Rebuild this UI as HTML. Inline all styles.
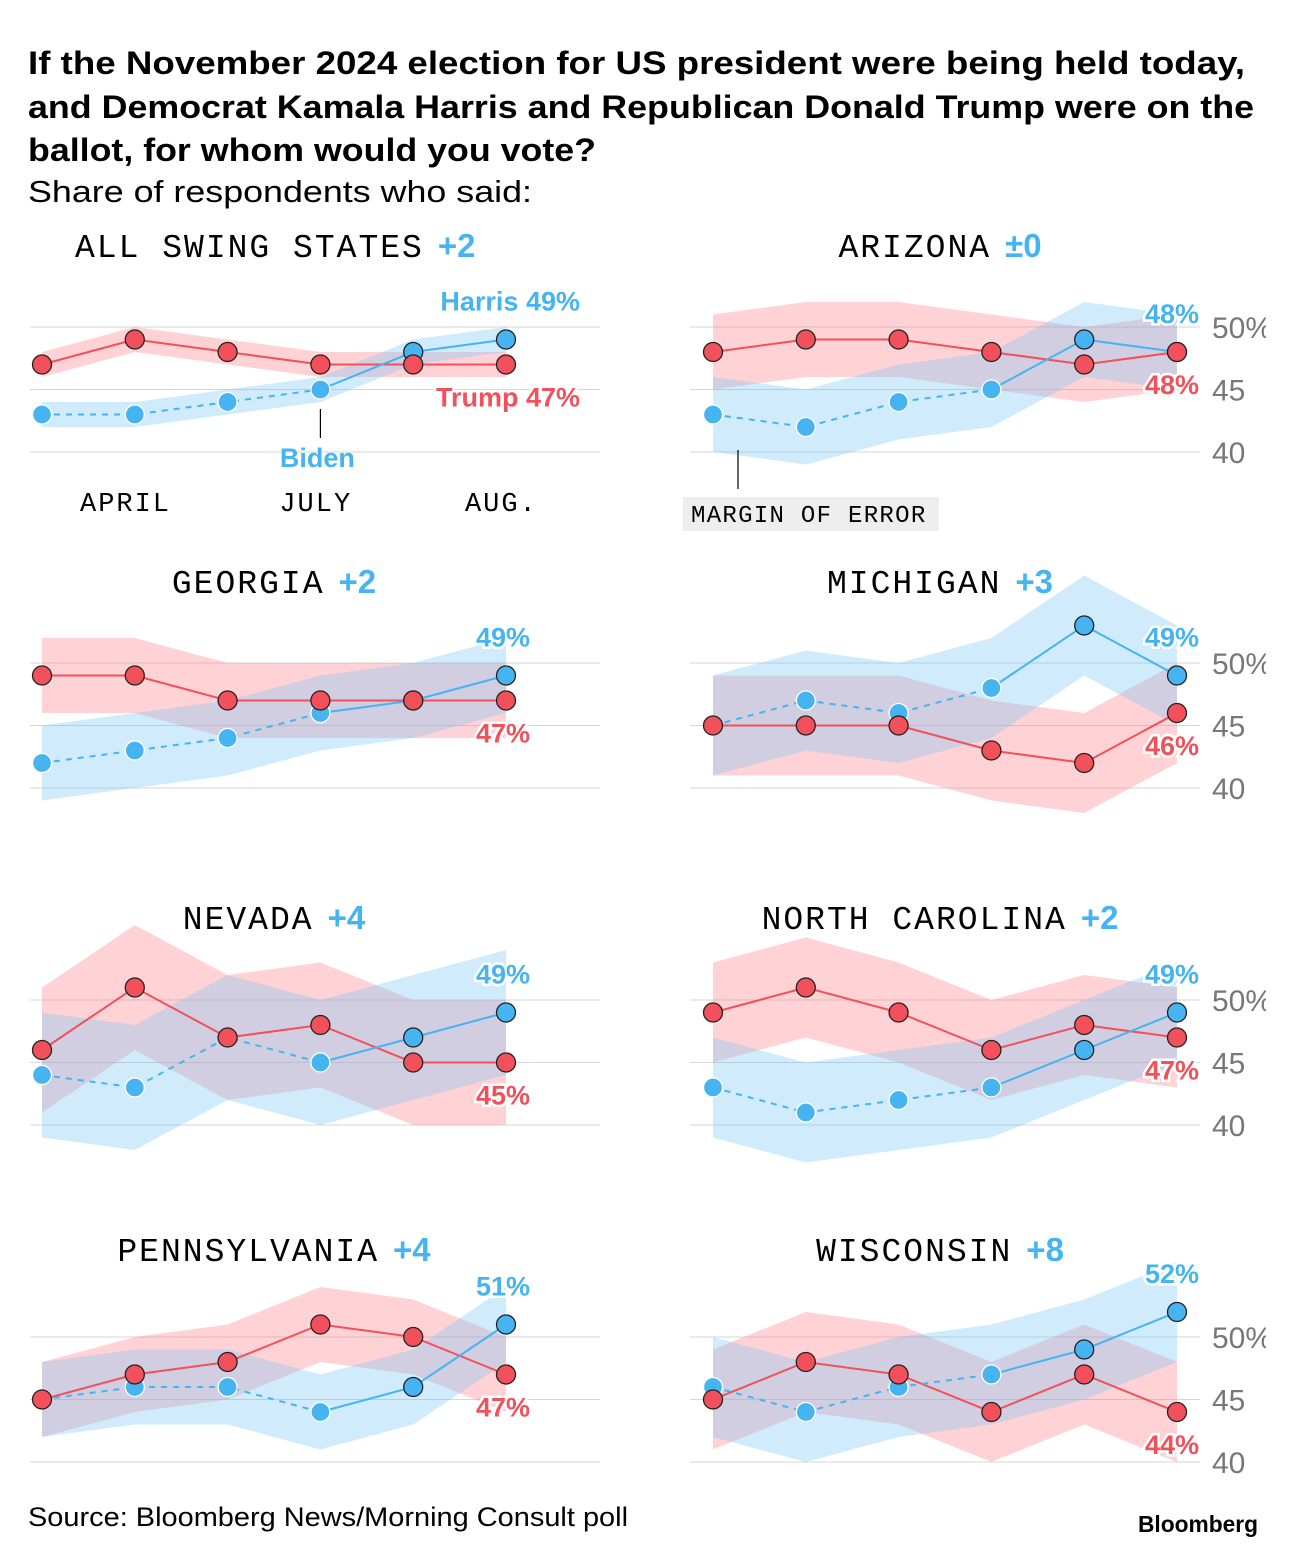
<!DOCTYPE html>
<html><head><meta charset="utf-8"><style>
body{margin:0;background:#fff;width:1296px;height:1558px;overflow:hidden}
.t{font-family:"Liberation Sans",sans-serif}
</style></head><body>
<svg id="c" width="1296" height="1558" xmlns="http://www.w3.org/2000/svg">
<defs><clipPath id="cp"><rect x="0" y="0" width="1266" height="1558"/></clipPath></defs>
<text x="28" y="74" class="t" font-size="32" font-weight="bold" fill="#000" textLength="1217" lengthAdjust="spacingAndGlyphs">If the November 2024 election for US president were being held today,</text>
<text x="28" y="118" class="t" font-size="32" font-weight="bold" fill="#000" textLength="1226" lengthAdjust="spacingAndGlyphs">and Democrat Kamala Harris and Republican Donald Trump were on the</text>
<text x="28" y="161" class="t" font-size="32" font-weight="bold" fill="#000" textLength="568" lengthAdjust="spacingAndGlyphs">ballot, for whom would you vote?</text>
<text x="28" y="202" class="t" font-size="31" fill="#000" textLength="504" lengthAdjust="spacingAndGlyphs">Share of respondents who said:</text>
<g id="panels" clip-path="url(#cp)"></g>
<text x="28" y="1526" class="t" font-size="27" fill="#000" textLength="600" lengthAdjust="spacingAndGlyphs">Source: Bloomberg News/Morning Consult poll</text>
<text x="1258" y="1532" class="t" font-size="23" font-weight="bold" fill="#000" text-anchor="end" textLength="120" lengthAdjust="spacingAndGlyphs">Bloomberg</text>
</svg>
<script>
const states=["ALL SWING STATES","ARIZONA","GEORGIA","MICHIGAN","NEVADA","NORTH CAROLINA","PENNSYLVANIA","WISCONSIN"];
const leads=["+2","±0","+2","+3","+4","+2","+4","+8"];
const trump=[[47,49,48,47,47,47],[48,49,49,48,47,48],[49,49,47,47,47,47],[45,45,45,43,42,46],[46,51,47,48,45,45],[49,51,49,46,48,47],[45,47,48,51,50,47],[45,48,47,44,47,44]];
const harris=[[43,43,44,45,48,49],[43,42,44,45,49,48],[42,43,44,46,47,49],[45,47,46,48,53,49],[44,43,47,45,47,49],[43,41,42,43,46,49],[45,46,46,44,46,51],[46,44,46,47,49,52]];
const moe=[1,3,3,4,5,4,3,4];
const yTicks=[50,45,40];
const monthLabels=["APRIL","JULY","AUG."];
const monthIdx=[0.9,2.95,4.95];
const NS="http://www.w3.org/2000/svg";
const g=document.getElementById('panels');
function el(t,a,p){const e=document.createElementNS(NS,t);for(const k in a)e.setAttribute(k,a[k]);(p||g).appendChild(e);return e;}
const base50=[327,663,1000,1337];
const RED="#f2505a",BLUE="#45b4f0";
states.forEach((s,i)=>{
  const col=i%2,row=Math.floor(i/2);
  const x0=col?713:42,dx=92.8;
  const xs=k=>x0+k*dx;
  const y50=base50[row];
  const ys=v=>y50+(50-v)*12.5;
  const pg=el('g',{});
  
  
  yTicks.forEach(t=>{
    const l=el('line',{x1:col?690:30,x2:col?1200:600,y1:ys(t),y2:ys(t),stroke:"#d6d6d6","stroke-width":1},pg);
    
    
    if(col){const tx=el('text',{x:1212,y:ys(t)+11,"font-size":30,fill:"#777",class:"t"},pg);tx.textContent=t+(t===50?"%":"");
      
      }
  });
  const tt=el('text',{x:col?940:(i===0?75:274),y:[257,593,929,1261][row],"font-size":33,"text-anchor":i===0?"start":"middle",class:"t"},pg);
  
  
  const a=el('tspan',{"font-family":"Liberation Mono,monospace","letter-spacing":"2"},tt);a.textContent=s;
  const b=el('tspan',{dx:"14","font-weight":"bold",fill:BLUE,"font-family":"Liberation Sans,sans-serif"},tt);b.textContent=leads[i];
  function band(arr,fill,name){
    const m=moe[i];
    let d=arr.map((v,k)=>(k?'L':'M')+xs(k)+','+ys(v+m)).join('')+arr.slice().reverse().map((v,k)=>'L'+xs(5-k)+','+ys(v-m)).join('')+'Z';
    const p=el('path',{d:d,fill:fill},pg);
    
    
  }
  band(trump[i],"rgba(255,120,132,0.33)","trump-margin-band");
  band(harris[i],"rgba(110,195,245,0.32)","harris-margin-band");
  const rl=el('path',{d:trump[i].map((v,k)=>(k?'L':'M')+xs(k)+','+ys(v)).join(''),stroke:RED,"stroke-width":2,fill:"none"},pg);
  
  
  const bd=el('path',{d:harris[i].slice(0,4).map((v,k)=>(k?'L':'M')+xs(k)+','+ys(v)).join(''),stroke:BLUE,"stroke-width":2,"stroke-dasharray":"6,6",fill:"none"},pg);
  
  
  const bs=el('path',{d:harris[i].slice(3).map((v,k)=>(k?'L':'M')+xs(k+3)+','+ys(v)).join(''),stroke:BLUE,"stroke-width":2,fill:"none"},pg);
  
  
  harris[i].forEach((v,k)=>{const c=el('circle',{cx:xs(k),cy:ys(v),r:9.5,fill:BLUE,stroke:k<4?"#fff":"#222","stroke-width":1.3},pg);
    
    });
  trump[i].forEach((v,k)=>{const c=el('circle',{cx:xs(k),cy:ys(v),r:9.5,fill:RED,stroke:"#222","stroke-width":1.3},pg);
    
    });
  const hv=harris[i][5],tv=trump[i][5];
  const lx=i===0?580:(col?1199:530);
  const hy=Math.min(ys(hv),ys(tv))-29, ty=Math.max(ys(hv),ys(tv))+42;
  const hl=el('text',{x:lx,y:hy,"font-size":27,"font-weight":"bold",fill:BLUE,"text-anchor":"end",class:"t",stroke:"#fff","stroke-width":5,"paint-order":"stroke"},pg);
  hl.textContent=(i===0?"Harris ":"")+hv+"%";
  
  
  const tl=el('text',{x:lx,y:ty,"font-size":27,"font-weight":"bold",fill:RED,"text-anchor":"end",class:"t",stroke:"#fff","stroke-width":5,"paint-order":"stroke"},pg);
  tl.textContent=(i===0?"Trump ":"")+tv+"%";
  
  
  if(i===0){
    el('line',{x1:xs(3),x2:xs(3),y1:409,y2:438,stroke:"#000","stroke-width":1.2},pg);
    const bl=el('text',{x:xs(3)-3,y:467,"font-size":27,"font-weight":"bold",fill:BLUE,"text-anchor":"middle",class:"t"},pg);bl.textContent="Biden";
    
    
    monthLabels.forEach((m,k)=>{const t=el('text',{x:xs(monthIdx[k]),y:511,"font-size":27,"text-anchor":"middle","font-family":"Liberation Mono,monospace","letter-spacing":"2"},pg);t.textContent=m;
      
      });
  }
  if(i===1){
    el('line',{x1:738,x2:738,y1:450,y2:489,stroke:"#000","stroke-width":1.2},pg);
    const r=el('rect',{x:683,y:497,width:256,height:34,fill:"#eeeeee"},pg);
    
    
    const t=el('text',{x:691,y:522,"font-size":24,"font-family":"Liberation Mono,monospace","letter-spacing":"1.3"},pg);t.textContent="MARGIN OF ERROR";
    
    
  }
});
</script>
</body></html>
